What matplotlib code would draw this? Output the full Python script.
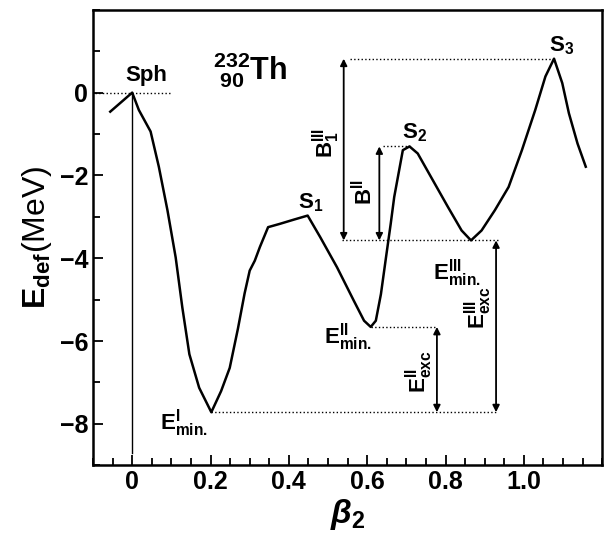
import matplotlib
matplotlib.use("Agg")
import matplotlib.pyplot as plt
from matplotlib.ticker import MultipleLocator

plt.rcParams['font.family'] = ['Liberation Sans', 'DejaVu Sans']
plt.rcParams['font.weight'] = 'bold'
plt.rcParams['mathtext.fontset'] = 'custom'
plt.rcParams['mathtext.rm'] = 'Liberation Sans:bold'
plt.rcParams['mathtext.bf'] = 'Liberation Sans:bold'
plt.rcParams['mathtext.it'] = 'Liberation Sans:italic:bold'
plt.rcParams['mathtext.default'] = 'rm'

# deformation energy curve
beta2 = [-0.056, 0.0, 0.017, 0.047, 0.068, 0.09, 0.111, 0.128, 0.146, 0.171,
         0.202, 0.227, 0.249, 0.27, 0.287, 0.30, 0.313, 0.326, 0.347, 0.377,
         0.412, 0.448, 0.48, 0.523, 0.566, 0.592, 0.609, 0.622, 0.635, 0.648,
         0.66, 0.669, 0.691, 0.708, 0.729, 0.763, 0.806, 0.841, 0.865, 0.892,
         0.926, 0.961, 0.995, 1.029, 1.055, 1.077, 1.098, 1.115, 1.137, 1.158]
e_def = [-0.46, 0.0, -0.42, -0.94, -1.79, -2.84, -3.98, -5.19, -6.32, -7.13,
         -7.72, -7.21, -6.65, -5.7, -4.85, -4.3, -4.06, -3.73, -3.25, -3.17,
         -3.07, -2.97, -3.49, -4.22, -5.03, -5.51, -5.66, -5.51, -4.87, -3.98,
         -3.17, -2.52, -1.39, -1.3, -1.47, -2.04, -2.76, -3.33, -3.57, -3.33,
         -2.84, -2.28, -1.39, -0.42, 0.39, 0.82, 0.23, -0.5, -1.23, -1.79]

# characteristic points
e_sph, e_s2, e_s3 = 0.0, -1.3, 0.82
e_min1, e_min2, e_min3 = -7.72, -5.66, -3.57
b_min1, b_min2, b_min3 = 0.202, 0.609, 0.865
b_s2, b_s3 = 0.708, 1.077

fig = plt.figure(figsize=(6.12, 5.46), dpi=100)
ax = fig.add_axes([0.152, 0.148, 0.832, 0.834])

ax.plot(beta2, e_def, color='black', lw=1.8)

# dotted reference levels
dot = dict(color='black', lw=1.0, ls=':')
ax.plot([-0.096, 0.096], [e_sph, e_sph], **dot)
ax.plot([0.556, b_s3], [e_s3, e_s3], **dot)
ax.plot([0.641, b_s2], [e_s2, e_s2], **dot)
ax.plot([0.535, 0.934], [e_min3, e_min3], **dot)
ax.plot([b_min2, 0.778], [e_min2, e_min2], **dot)
ax.plot([b_min1, 0.934], [e_min1, e_min1], **dot)

# vertical line below the spherical point
ax.plot([0, 0], [e_sph, -8.7], color='black', lw=1.0)

# double arrows
arr = dict(arrowstyle='<|-|>', color='black', lw=1.3, mutation_scale=10,
           shrinkA=0, shrinkB=0)
ax.annotate('', xy=(0.540, e_s3), xytext=(0.540, e_min3), arrowprops=arr)
ax.annotate('', xy=(0.631, e_s2), xytext=(0.631, e_min3), arrowprops=arr)
ax.annotate('', xy=(0.778, e_min2), xytext=(0.778, e_min1), arrowprops=arr)
ax.annotate('', xy=(0.929, e_min3), xytext=(0.929, e_min1), arrowprops=arr)

# labels
ax.text(0.035, 0.42, 'Sph', fontsize=16, ha='center', va='center')
ax.text(0.455, -2.66, r'$S_1$', fontsize=16, ha='center', va='center')
ax.text(0.722, -0.97, r'$S_2$', fontsize=16, ha='center', va='center')
ax.text(1.096, 1.14, r'$S_3$', fontsize=16, ha='center', va='center')
ax.text(0.30, 0.55, r'$^{232}_{\ 90}$Th', fontsize=22, ha='center', va='center')
ax.text(0.131, -7.97, r'$E^{I}_{min.}$', fontsize=16, ha='center', va='center')
ax.text(0.55, -5.9, r'$E^{II}_{min.}$', fontsize=16, ha='center', va='center')
ax.text(0.828, -4.35, r'$E^{III}_{min.}$', fontsize=16, ha='center', va='center')
ax.text(0.495, -1.22, r'$B^{III}_{1}$', fontsize=16, ha='center', va='center', rotation=90)
ax.text(0.59, -2.4, r'$B^{II}$', fontsize=16, ha='center', va='center', rotation=90)
ax.text(0.732, -6.75, r'$E^{II}_{exc}$', fontsize=16, ha='center', va='center', rotation=90)
ax.text(0.884, -5.2, r'$E^{III}_{exc}$', fontsize=16, ha='center', va='center', rotation=90)

ax.set_xlim(-0.1, 1.2)
ax.set_ylim(-9, 2)
ax.set_xticks([0, 0.2, 0.4, 0.6, 0.8, 1.0])
ax.set_xticklabels(['0', '0.2', '0.4', '0.6', '0.8', '1.0'])
ax.set_yticks([-8, -6, -4, -2, 0])
ax.set_yticklabels(['\u22128', '\u22126', '\u22124', '\u22122', '0'])
ax.xaxis.set_minor_locator(MultipleLocator(0.05))
ax.yaxis.set_minor_locator(MultipleLocator(1))
ax.tick_params(which='both', direction='in', labelsize=18, width=1.3)
ax.tick_params(which='major', length=7)
ax.tick_params(which='minor', length=5)
for s in ax.spines.values():
    s.set_linewidth(1.8)

ax.set_xlabel(r'$\mathit{\beta}_2$', fontsize=24, labelpad=2)
ax.set_ylabel(r'$E_{def}$(MeV)', fontsize=23, labelpad=4)

fig.savefig('out.png', dpi=100)
